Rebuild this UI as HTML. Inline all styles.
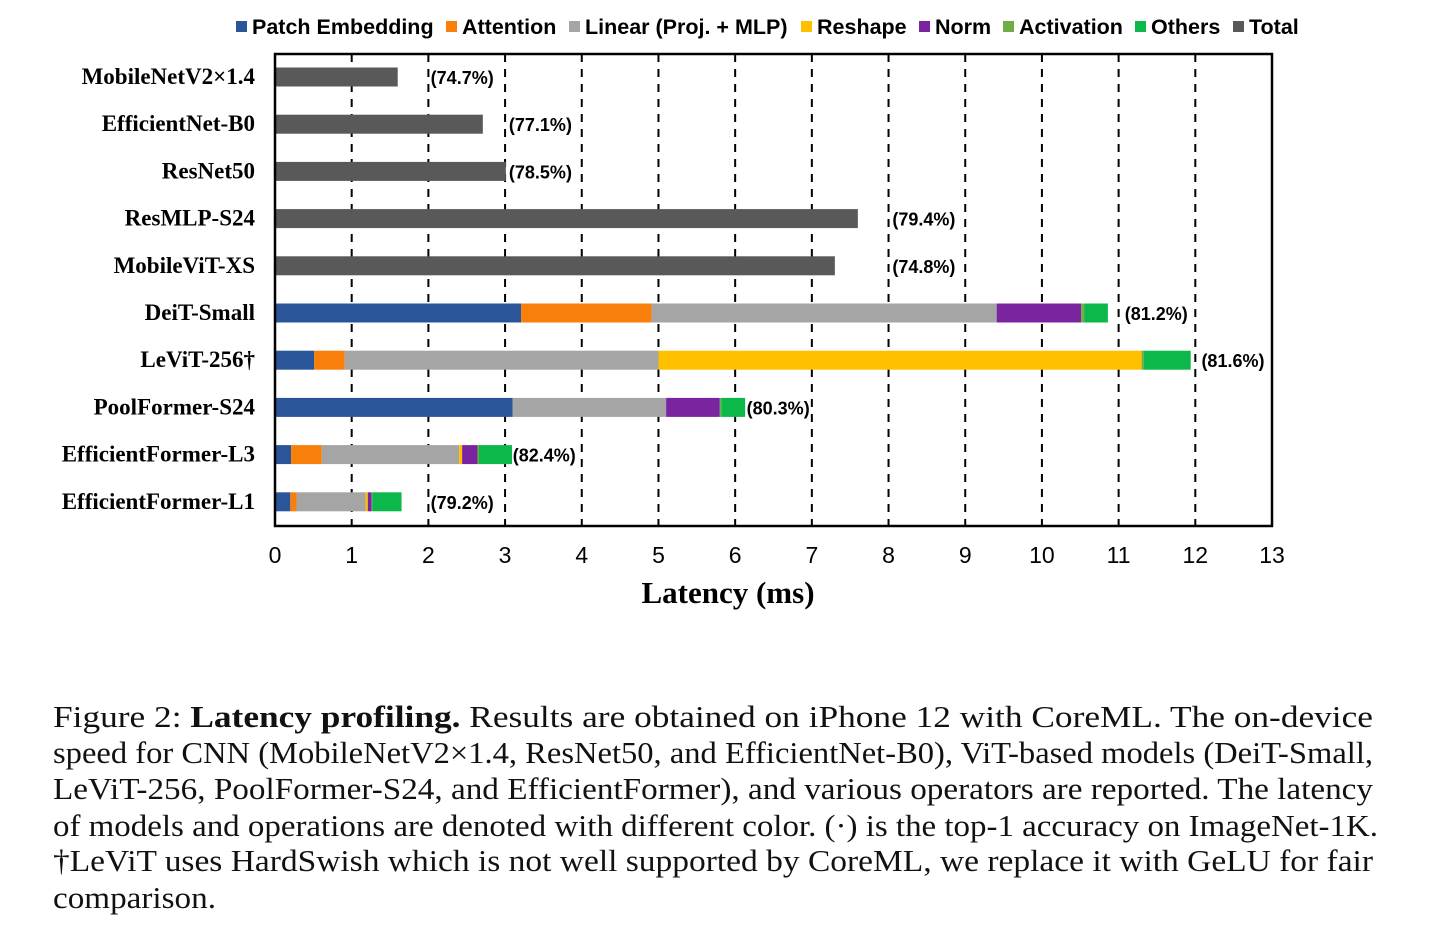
<!DOCTYPE html>
<html><head><meta charset="utf-8"><style>
html,body{margin:0;padding:0;background:#fff;width:1440px;height:925px;overflow:hidden}
svg text{font-family:"Liberation Sans",sans-serif}
svg text.serif{font-family:"Liberation Serif",serif}
</style></head><body>
<svg id="chart" width="1440" height="925" viewBox="0 0 1440 925" xmlns="http://www.w3.org/2000/svg">
<g id="legend"></g>
<g id="grid"></g>
<g id="bars"></g>
<rect x="275" y="54" width="997" height="472" fill="none" stroke="#000" stroke-width="2.5"/>
<g id="ylabels"></g>
<g id="xticks"></g>
<text class="serif" x="728" y="603" text-anchor="middle" font-size="31" font-weight="bold">Latency (ms)</text>
<g font-size="31" fill="#111">
<text class="serif" x="53" y="727" textLength="1320" lengthAdjust="spacingAndGlyphs">Figure 2: <tspan font-weight="bold">Latency profiling.</tspan> Results are obtained on iPhone 12 with CoreML. The on-device</text>
<text class="serif" x="53" y="763" textLength="1320" lengthAdjust="spacingAndGlyphs">speed for CNN (MobileNetV2×1.4, ResNet50, and EfficientNet-B0), ViT-based models (DeiT-Small,</text>
<text class="serif" x="53" y="799" textLength="1320" lengthAdjust="spacingAndGlyphs">LeViT-256, PoolFormer-S24, and EfficientFormer), and various operators are reported. The latency</text>
<text class="serif" x="53" y="836" textLength="1325" lengthAdjust="spacingAndGlyphs">of models and operations are denoted with different color. (·) is the top-1 accuracy on ImageNet-1K.</text>
<text class="serif" x="53" y="871" textLength="1320" lengthAdjust="spacingAndGlyphs">†LeViT uses HardSwish which is not well supported by CoreML, we replace it with GeLU for fair</text>
<text class="serif" x="53" y="908" textLength="163" lengthAdjust="spacingAndGlyphs">comparison.</text>
</g>
</svg>
<script>
const models = ["MobileNetV2×1.4","EfficientNet-B0","ResNet50","ResMLP-S24","MobileViT-XS","DeiT-Small","LeViT-256†","PoolFormer-S24","EfficientFormer-L3","EfficientFormer-L1"];
const accuracy = ["(74.7%)","(77.1%)","(78.5%)","(79.4%)","(74.8%)","(81.2%)","(81.6%)","(80.3%)","(82.4%)","(79.2%)"];
const labelAt = [2.03,3.05,3.05,8.05,8.05,11.08,12.08,6.15,3.1,2.03];
const seriesNames = ["Patch Embedding","Attention","Linear (Proj. + MLP)","Reshape","Norm","Activation","Others","Total"];
const seriesColors = ["#2A5699","#F77F0A","#A5A5A5","#FFC000","#7A24A0","#70AD47","#0CB84A","#595959"];
const patchEmb = [0,0,0,0,0,3.21,0.51,3.10,0.21,0.20];
const attention = [0,0,0,0,0,1.70,0.40,0,0.40,0.08];
const linear = [0,0,0,0,0,4.50,4.09,2.00,1.79,0.90];
const reshape = [0,0,0,0,0,0,6.30,0,0.04,0.03];
const norm = [0,0,0,0,0,1.10,0,0.70,0.20,0.05];
const activation = [0,0,0,0,0,0.04,0.03,0.02,0.02,0.01];
const others = [0,0,0,0,0,0.31,0.61,0.31,0.43,0.38];
const total = [1.60,2.71,3.01,7.60,7.30,0,0,0,0,0];
const xTicks = [0,1,2,3,4,5,6,7,8,9,10,11,12,13];

const NS="http://www.w3.org/2000/svg";
const x = v => 275 + v*(997/13);
const yC = i => 77 + i*47.2;
function mk(tag, attrs, parent){const e=document.createElementNS(NS,tag);for(const k in attrs)e.setAttribute(k,attrs[k]);parent.appendChild(e);return e;}
const grid=document.getElementById('grid'), bars=document.getElementById('bars');
xTicks.forEach(t=>{
  if(t>0&&t<13){const l=mk('line',{x1:x(t),x2:x(t),y1:54,y2:526,stroke:'#000','stroke-width':2,'stroke-dasharray':'8,7'},grid);
  
  }
  const tx=mk('text',{x:x(t),y:563,'text-anchor':'middle','font-size':23},document.getElementById('xticks'));
  
  
  tx.textContent=t;
});
const series=[patchEmb,attention,linear,reshape,norm,activation,others,total];
models.forEach((m,i)=>{
  let acc=0;
  series.forEach((s,k)=>{
    if(s[i]>0){const r=mk('rect',{x:x(acc),y:yC(i)-9.5,width:x(acc+s[i])-x(acc),height:19,fill:seriesColors[k]},bars);
    
    
    acc+=s[i];}
  });
  const a=mk('text',{x:x(labelAt[i]),y:yC(i)+7,'font-size':18,'font-weight':'bold'},bars);
  
  
  a.textContent=accuracy[i];
  const yl=mk('text',{x:255,y:yC(i)+7,'text-anchor':'end','font-size':23,'font-weight':'bold',class:'serif'},document.getElementById('ylabels'));
  
  
  yl.textContent=m;
});
const leg=document.getElementById('legend');
const legX=[236,446,569,801,919,1003,1135,1233];
seriesNames.forEach((n,k)=>{
  const g=mk('g',{},leg);
  
  
  mk('rect',{x:legX[k],y:21,width:11,height:11,fill:seriesColors[k]},g);
  const t=mk('text',{x:legX[k]+16,y:34,'font-size':21.5,'font-weight':'bold'},g);
  t.textContent=n;
});
</script>
</body></html>
